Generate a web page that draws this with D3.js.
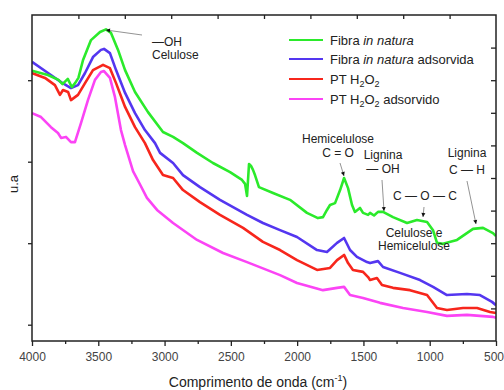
<!DOCTYPE html>
<html><head><meta charset="utf-8">
<script src="https://cdn.jsdelivr.net/npm/d3@7"></script>
<style>body{margin:0;background:#fff}svg{display:block}text{font-family:"Liberation Sans",Arial,sans-serif}</style>
</head><body>
<script>
// wavenumber (cm-1), absorbance (u.a., arbitrary units)
const fibraNatura = [[4000,82.9],[3880,81.6],[3800,80.1],[3770,78.8],[3730,80.4],[3700,77.9],[3675,79.1],[3650,80.7],[3615,86.2],[3555,92.3],[3487,94.8],[3442,95.6],[3404,94.5],[3351,89.3],[3298,83.1],[3223,76.4],[3125,70.2],[3012,64.1],[2936,62.6],[2861,60.7],[2755,57.7],[2635,54.6],[2506,51.8],[2416,49.4],[2393,48.2],[2378,44.5],[2363,54.3],[2348,53.7],[2333,52.5],[2318,50.9],[2288,47.2],[2182,45.4],[2054,43.3],[1926,39.3],[1843,37.7],[1805,38.0],[1775,40.2],[1752,41.7],[1714,42.3],[1676,46.3],[1646,50.0],[1616,46.9],[1586,41.7],[1564,39.6],[1526,40.8],[1503,39.3],[1465,38.7],[1450,39.3],[1420,38.5],[1390,39.6],[1352,39.6],[1277,38.0],[1171,36.2],[1096,37.1],[1020,36.5],[975,34.0],[945,30.1],[900,29.8],[794,31.0],[673,34.4],[598,34.7],[523,33.1],[500,32.2]];
const fibraAdsorvida = [[4000,85.6],[3879,82.2],[3781,79.4],[3706,77.6],[3653,78.5],[3600,82.2],[3540,87.1],[3480,89.3],[3457,89.6],[3412,88.3],[3366,83.1],[3298,76.1],[3223,69.9],[3148,64.7],[3072,60.7],[3034,57.7],[2936,54.6],[2861,50.9],[2733,47.2],[2582,43.3],[2378,38.7],[2258,36.2],[2129,34.0],[2001,31.9],[1850,27.9],[1775,27.3],[1699,30.1],[1646,31.6],[1601,27.9],[1549,25.8],[1473,24.2],[1450,23.9],[1390,24.5],[1352,22.7],[1224,20.9],[1073,18.7],[975,16.6],[870,14.1],[719,14.4],[621,14.1],[530,12.0],[500,11.0]];
const ptH2O2 = [[4000,82.2],[3902,80.7],[3827,78.5],[3789,75.5],[3766,77.0],[3728,76.4],[3706,73.9],[3653,75.5],[3600,79.1],[3540,83.1],[3464,84.7],[3412,83.7],[3366,79.1],[3298,71.8],[3223,65.6],[3148,60.7],[3087,55.5],[3012,50.9],[2936,50.0],[2861,46.3],[2733,42.6],[2582,38.7],[2408,34.7],[2258,30.4],[2129,27.9],[2001,24.8],[1850,21.8],[1752,22.4],[1699,24.8],[1646,26.4],[1616,23.9],[1579,21.8],[1503,21.2],[1465,19.6],[1450,18.7],[1398,19.3],[1360,17.2],[1277,16.3],[1149,15.6],[1020,14.1],[945,10.1],[870,9.5],[749,10.1],[643,10.1],[545,8.9],[500,8.6]];
const ptH2O2Adsorvido = [[4000,69.9],[3932,68.7],[3857,65.6],[3804,63.8],[3781,62.3],[3744,62.6],[3706,61.0],[3676,61.0],[3630,66.9],[3578,73.9],[3525,80.1],[3480,82.5],[3457,82.8],[3412,80.7],[3374,74.8],[3329,64.7],[3298,60.1],[3238,52.1],[3185,48.0],[3133,43.9],[3057,40.2],[2936,36.2],[2755,31.0],[2559,27.0],[2378,24.2],[2129,20.2],[2001,17.8],[1805,15.6],[1699,16.3],[1646,16.6],[1601,14.1],[1503,13.2],[1375,11.7],[1201,10.1],[1020,8.9],[870,7.7],[719,8.0],[523,7.4],[500,7.1]];

const seriesNames = ["Fibra in natura","Fibra in natura adsorvida","PT H2O2","PT H2O2 adsorvido"];
const seriesColors = ["#2bea2b","#5436f0","#f7261c","#fb44f5"];
const seriesData = [fibraNatura, fibraAdsorvida, ptH2O2, ptH2O2Adsorvido];
const xTicks = [4000,3500,3000,2500,2000,1500,1000,500];

const W=504,H=390;
const m={l:32,r:8,t:15,b:49};
const svg=d3.select("body").append("svg").attr("width",W).attr("height",H);
const x=d3.scaleLinear().domain([4000,500]).range([m.l,W-m.r]);
const y=d3.scaleLinear().domain([0,100]).range([H-m.b,m.t]);
const x0=m.l,x1=W-m.r,y0=H-m.b,y1=m.t;

// bottom axis
const bottom=svg.append("g").attr("transform",`translate(0,${y0})`)
 .call(d3.axisBottom(x).tickValues(xTicks).tickSize(5).tickSizeOuter(0).tickPadding(6).tickFormat(d3.format("d")));
bottom.selectAll(".tick text").attr("font-size",12).attr("fill","#444").attr("font-family","Liberation Sans, Arial, sans-serif");
bottom.selectAll(".tick text").filter(d=>d===500).attr("text-anchor","end").attr("dx",7.5);
bottom.select(".domain").remove();
svg.append("g").attr("transform",`translate(0,${y0})`)
 .call(d3.axisBottom(x).tickValues(d3.range(3750,500,-500)).tickSize(3).tickFormat(""))
 .select(".domain").remove();
// top axis inward
svg.append("g").attr("transform",`translate(0,${y1})`)
 .call(d3.axisBottom(x).tickValues(d3.range(1,10).map(k=>4000-350*k)).tickSize(4).tickFormat(""))
 .select(".domain").remove();
// left axis outward
svg.append("g").attr("transform",`translate(${x0},0)`)
 .call(d3.axisLeft(y).tickValues([5,30,55,80]).tickSize(4).tickFormat(""))
 .select(".domain").remove();
// right axis inward
svg.append("g").attr("transform",`translate(${x1},0)`)
 .call(d3.axisLeft(y).tickValues(d3.range(10,100,10)).tickSize(5).tickFormat(""))
 .select(".domain").remove();
svg.selectAll(".tick line").attr("stroke","#222").attr("stroke-width",1.3);

// clip
svg.append("clipPath").attr("id","c").append("rect").attr("x",x0).attr("y",y1).attr("width",x1-x0).attr("height",y0-y1);
const line=d3.line().x(d=>x(d[0])).y(d=>y(d[1])).curve(d3.curveLinear);
const g=svg.append("g").attr("clip-path","url(#c)");
[3,2,1,0].forEach(i=>{
 g.append("path").datum(seriesData[i]).attr("d",line).attr("fill","none")
  .attr("stroke",seriesColors[i]).attr("stroke-width",2.6).attr("stroke-linejoin","round");
});

// frame
svg.append("rect").attr("x",x0).attr("y",y1).attr("width",x1-x0).attr("height",y0-y1)
 .attr("fill","none").attr("stroke","#222").attr("stroke-width",1.5);

// legend
const lg=svg.append("g").attr("font-size",13).attr("fill","#222");
const ly=[40,59,79,99];
seriesNames.forEach((n,i)=>{
 lg.append("line").attr("x1",289).attr("x2",323).attr("y1",ly[i]).attr("y2",ly[i]).attr("stroke",seriesColors[i]).attr("stroke-width",2);
 const t=lg.append("text").attr("x",330).attr("y",ly[i]+4.5).attr("fill","#222");
 if(i<2){
  t.append("tspan").text("Fibra ");
  t.append("tspan").attr("font-style","italic").text("in natura");
  if(i==1) t.append("tspan").text(" adsorvida");
 } else {
  t.append("tspan").text("PT H");
  t.append("tspan").attr("font-size",9).attr("dy",3).text("2");
  t.append("tspan").attr("dy",-3).text("O");
  t.append("tspan").attr("font-size",9).attr("dy",3).text("2");
  t.append("tspan").attr("dy",-3).text(i==3?" adsorvido":"");
 }
});

// axis labels
svg.append("text").attr("x",258).attr("y",387).attr("text-anchor","middle").attr("font-size",14).attr("fill","#222")
 .call(t=>{t.append("tspan").text("Comprimento de onda (cm");t.append("tspan").attr("font-size",9).attr("dy",-6).text("-1");t.append("tspan").attr("dy",6).text(")");});
svg.append("text").attr("transform","translate(18,184) rotate(-90)").attr("text-anchor","middle").attr("font-size",13).attr("fill","#222").text("u.a");

// annotations
const ann=svg.append("g").attr("font-size",12).attr("fill","#222");
const txt=(s,xx,yy,a="middle")=>ann.append("text").attr("x",xx).attr("y",yy).attr("text-anchor",a).text(s);
txt("—OH",152,46,"start");
txt("Celulose",152,59,"start");
txt("Hemicelulose",338,143);
txt("C = O",338,157);
txt("Lignina",383,159);
txt("— OH",383,173);
txt("C — O — C",425,200);
txt("Lignina",467,157);
txt("C — H",467,174);
txt("Celulose e",414,237);
txt("Hemicelulose",414,250);
const arrows=[[142,35,106,30],[340,163,344,176],[382,180,384,211],[424,207,423,217],[467,181,476,224]];
arrows.forEach(a=>{
 ann.append("line").attr("x1",a[0]).attr("y1",a[1]).attr("x2",a[2]).attr("y2",a[3]).attr("stroke","#777").attr("stroke-width",0.8);
 const ang=Math.atan2(a[3]-a[1],a[2]-a[0]);
 const L=4,w=2;
 const p=[[a[2],a[3]],[a[2]-L*Math.cos(ang)+w*Math.sin(ang),a[3]-L*Math.sin(ang)-w*Math.cos(ang)],[a[2]-L*Math.cos(ang)-w*Math.sin(ang),a[3]-L*Math.sin(ang)+w*Math.cos(ang)]];
 ann.append("path").attr("d","M"+p.join("L")+"Z").attr("fill","#111");
});
</script>
</body></html>
